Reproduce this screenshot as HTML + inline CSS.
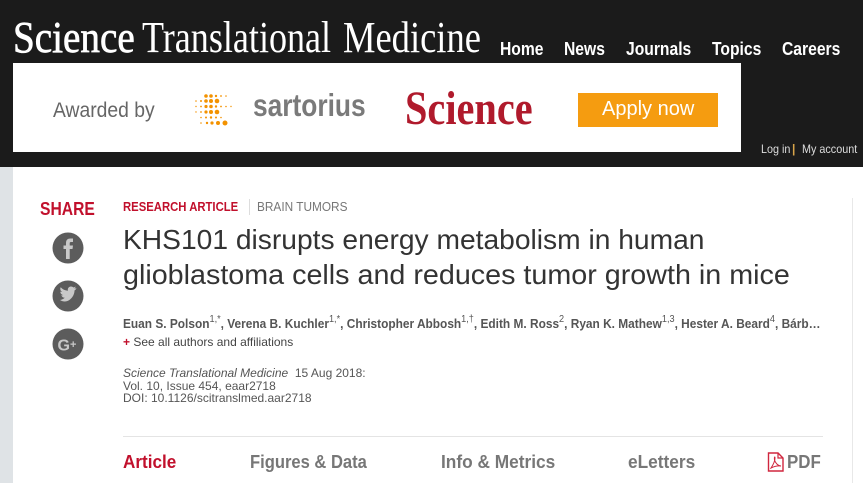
<!DOCTYPE html>
<html><head><meta charset="utf-8">
<style>
html,body{margin:0;padding:0;}
body{width:863px;height:483px;position:relative;overflow:hidden;background:#fff;font-family:"Liberation Sans",Arial,sans-serif;}
.t{position:absolute;white-space:nowrap;line-height:1;transform-origin:0 0;}
.serif{font-family:"Liberation Serif","Times New Roman",serif;}
.nav{font-size:18px;font-weight:bold;color:#fff;top:40px;transform:scaleX(0.87);}
.tab{font-size:18px;font-weight:bold;color:#777;top:453px;}
sup{font-size:10px;line-height:0;vertical-align:6px;font-weight:normal;}
</style></head><body>
<div style="position:absolute;left:0;top:0;width:863px;height:167px;background:#1b1b1b;"></div>
<div class="t serif" style="left:13px;top:16px;font-size:44px;color:#fff;transform:scaleX(0.89);-webkit-text-stroke:0.7px #fff;">Science</div>
<div class="t serif" style="left:142px;top:16px;font-size:44px;color:#fff;transform:scaleX(0.82);">Translational</div>
<div class="t serif" style="left:343px;top:16px;font-size:44px;color:#fff;transform:scaleX(0.83);">Medicine</div>
<div class="t nav" style="left:500px;">Home</div>
<div class="t nav" style="left:564px;">News</div>
<div class="t nav" style="left:626px;">Journals</div>
<div class="t nav" style="left:712px;">Topics</div>
<div class="t nav" style="left:782px;">Careers</div>

<div style="position:absolute;left:13px;top:63px;width:728px;height:89px;background:#fff;"></div>
<div class="t" style="left:53px;top:100px;font-size:21px;color:#666;transform:scaleX(0.92);">Awarded by</div>
<svg style="position:absolute;left:0;top:0" width="863" height="483">
<g fill="#f39200">
<circle cx="206" cy="96" r="1.8"/><circle cx="211" cy="96" r="1.8"/><circle cx="216" cy="96" r="1.2"/><circle cx="221" cy="96" r="0.9"/><circle cx="226" cy="96" r="0.8"/>
<circle cx="196" cy="101" r="0.8"/><circle cx="201" cy="101" r="1"/><circle cx="206" cy="101" r="1.8"/><circle cx="211" cy="101" r="2"/><circle cx="217" cy="101" r="2.3"/>
<circle cx="196" cy="106.5" r="0.7"/><circle cx="201" cy="106.5" r="0.9"/><circle cx="206" cy="106.5" r="1.6"/><circle cx="211" cy="106.5" r="1.8"/><circle cx="216" cy="106.5" r="1.2"/><circle cx="221" cy="106.5" r="0.9"/><circle cx="226" cy="106.5" r="0.8"/><circle cx="231" cy="106.5" r="0.7"/>
<circle cx="196" cy="112" r="0.7"/><circle cx="201" cy="112" r="0.9"/><circle cx="206" cy="112" r="1.6"/><circle cx="211" cy="112" r="2"/><circle cx="217" cy="112" r="2.3"/>
<circle cx="201" cy="117.5" r="0.8"/><circle cx="206" cy="117.5" r="1"/><circle cx="211" cy="117.5" r="1.2"/><circle cx="216" cy="117.5" r="1"/><circle cx="221" cy="117.5" r="0.8"/>
<circle cx="201" cy="123" r="0.8"/><circle cx="207" cy="123" r="1.2"/><circle cx="212" cy="123" r="1.6"/><circle cx="218" cy="123" r="2"/><circle cx="225" cy="123" r="2.5"/>
</g>
</svg>
<div class="t" style="left:253px;top:93px;font-size:28px;font-weight:bold;color:#7a7a7a;transform-origin:0 24px;transform:scale(0.94,1.12);">sartorius</div>
<div class="t serif" style="left:405px;top:85px;font-size:48px;font-weight:bold;color:#b01a2c;transform:scaleX(0.84);">Science</div>
<div style="position:absolute;left:578px;top:93px;width:140px;height:34px;background:#f59c10;"></div>
<div class="t" style="left:602px;top:99px;font-size:20px;color:#fff;">Apply now</div>
<div class="t" style="left:761px;top:143px;font-size:12px;color:#ddd;transform:scaleX(0.9);">Log in</div>
<div class="t" style="left:792px;top:143px;font-size:12px;font-weight:bold;color:#d8a44a;">|</div>
<div class="t" style="left:802px;top:143px;font-size:12px;color:#ddd;transform:scaleX(0.9);">My account</div>

<div style="position:absolute;left:0;top:167px;width:13px;height:316px;background:#dfe3e6;"></div>
<div style="position:absolute;left:852px;top:198px;width:1px;height:285px;background:#e8e8e8;"></div>

<div class="t" style="left:40px;top:200px;font-size:18px;font-weight:bold;color:#c1102c;transform:scaleX(0.87);">SHARE</div>
<svg style="position:absolute;left:52px;top:232px" width="32" height="130">
<circle cx="16" cy="16" r="15.5" fill="#5c5c5c"/>
<path d="M14 27 V17 H11.5 V13.5 H14 V11 C14 8 15.5 6.5 18.5 6.5 H21 V10 H19 C18 10 17.7 10.5 17.7 11.3 V13.5 H21 L20.5 17 H17.7 V27 Z" fill="#c8c8c8"/>
<circle cx="16" cy="64" r="15.5" fill="#5c5c5c"/>
<path d="M8 68 C11 70 15 70 18 67.5 C21 65 22.5 61.5 22.5 58.5 C23.5 58 24 57 24.5 56 C23.5 56.5 23 56.5 22.3 56.6 C23 56 23.5 55.3 23.8 54.5 C23 55 22.3 55.3 21.5 55.5 C20 54 17 54 16 56.5 C15.7 57.5 15.8 58.2 16 58.8 C13 58.6 10.5 57.4 8.7 55.3 C7.8 57 8.5 59 10 60 C9.3 60 8.8 59.8 8.3 59.5 C8.3 61.3 9.5 62.7 11.2 63.1 C10.5 63.3 9.9 63.3 9.3 63.2 C9.8 64.7 11.2 65.7 12.8 65.8 C11.3 67 9.8 67.8 8 68 Z" fill="#c8c8c8"/>
<circle cx="16" cy="112" r="15.5" fill="#5c5c5c"/>
<text x="5.5" y="118.5" font-family="Liberation Sans, sans-serif" font-weight="bold" font-size="16" fill="#c8c8c8">G</text>
<text x="18" y="116" font-family="Liberation Sans, sans-serif" font-weight="bold" font-size="11" fill="#c8c8c8">+</text>
</svg>

<div class="t" style="left:123px;top:200px;font-size:13px;font-weight:bold;color:#c1102c;transform:scaleX(0.87);">RESEARCH ARTICLE</div>
<div style="position:absolute;left:249px;top:199px;width:1px;height:16px;background:#ddd;"></div>
<div class="t" style="left:257px;top:200px;font-size:13px;color:#777;transform:scaleX(0.91);">BRAIN TUMORS</div>

<div class="t" style="left:123px;top:226px;font-size:28px;color:#333;transform:scaleX(1.007);">KHS101 disrupts energy metabolism in human</div>
<div class="t" style="left:123px;top:261px;font-size:28px;color:#333;transform:scaleX(1.025);">glioblastoma cells and reduces tumor growth in mice</div>

<div class="t" style="left:123px;top:317px;font-size:13px;font-weight:bold;color:#555;transform:scaleX(0.914);">Euan S. Polson<sup>1,*</sup>, Verena B. Kuchler<sup>1,*</sup>, Christopher Abbosh<sup>1,†</sup>, Edith M. Ross<sup>2</sup>, Ryan K. Mathew<sup>1,3</sup>, Hester A. Beard<sup>4</sup>, Bárb…</div>
<div class="t" style="left:123px;top:336px;font-size:12px;color:#444;"><b style="color:#c1102c;">+</b> See all authors and affiliations</div>

<div class="t" style="left:123px;top:367px;font-size:12px;color:#555;"><i>Science Translational Medicine</i>&nbsp; 15 Aug 2018:</div>
<div class="t" style="left:123px;top:379.5px;font-size:12px;color:#555;">Vol. 10, Issue 454, eaar2718</div>
<div class="t" style="left:123px;top:392px;font-size:12px;color:#555;">DOI: 10.1126/scitranslmed.aar2718</div>

<div style="position:absolute;left:123px;top:436px;width:700px;height:1px;background:#e4e4e4;"></div>
<div class="t tab" style="left:123px;color:#c1102c;transform:scaleX(0.95);">Article</div>
<div class="t tab" style="left:250px;transform:scaleX(0.92);">Figures &amp; Data</div>
<div class="t tab" style="left:441px;transform:scaleX(0.96);">Info &amp; Metrics</div>
<div class="t tab" style="left:628px;transform:scaleX(0.96);">eLetters</div>
<svg style="position:absolute;left:767px;top:452px" width="18" height="20">
<path d="M1.5 1 H11 L16 6 V19 H1.5 Z" fill="none" stroke="#d0263e" stroke-width="1.4"/>
<path d="M11 1 V6 H16" fill="none" stroke="#d0263e" stroke-width="1.2"/>
<path d="M4 16 C6 13 8 9 8 6 C8 4 7 5 7.5 8 C8.5 11 11 14 14 14 C11 13.5 7 14.5 4 16 Z" fill="none" stroke="#d0263e" stroke-width="1"/>
</svg>
<div class="t tab" style="left:787px;transform:scaleX(0.94);">PDF</div>
</body></html>
